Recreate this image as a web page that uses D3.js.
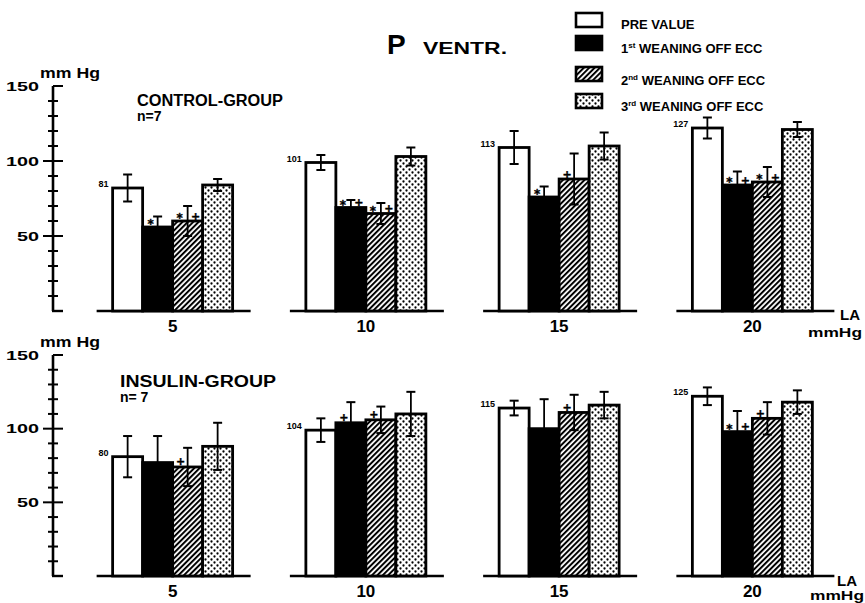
<!DOCTYPE html>
<html><head><meta charset="utf-8">
<script src="https://cdn.jsdelivr.net/npm/d3@7"></script>
<style>
body{margin:0;background:#fff;}
svg{display:block;font-family:"Liberation Sans",Arial,sans-serif;font-weight:bold;}
text{fill:#000;}
</style></head>
<body>
<svg id="c" width="865" height="603"></svg>
<script>
// ---- data ----
const categories = ["5", "10", "15", "20"];
const seriesNames = ["PRE VALUE", "1st WEANING OFF ECC", "2nd WEANING OFF ECC", "3rd WEANING OFF ECC"];
const majorTicks = [50, 100, 150];
const minorTicks = [10, 20, 30, 40, 60, 70, 80, 90, 110, 120, 130, 140];

const controlPre = [82, 99, 109, 122];
const controlPreErr = [9, 5, 11, 7];
const control1st = [56, 69, 76, 84];
const control1stErr = [7, 5, 7, 9];
const control2nd = [60, 65, 88, 86];
const control2ndErr = [10, 7, 17, 10];
const control3rd = [84, 103, 110, 121];
const control3rdErr = [4, 6, 9, 5];
const controlPreLabels = ["81", "101", "113", "127"];
const control1stMarks = ["*", "*+", "*", "*+"];
const control2ndMarks = ["*+", "*+", "+", "*+"];

const insulinPre = [81, 99, 114, 122];
const insulinPreErr = [14, 8, 5, 6];
const insulin1st = [77, 104, 100, 98];
const insulin1stErr = [18, 14, 20, 14];
const insulin2nd = [74, 106, 111, 107];
const insulin2ndErr = [13, 9, 12, 11];
const insulin3rd = [88, 110, 116, 118];
const insulin3rdErr = [16, 15, 9, 8];
const insulinPreLabels = ["80", "104", "115", "125"];
const insulin1stMarks = ["", "+", "", "*+"];
const insulin2ndMarks = ["+", "+", "+", "+"];

// ---- setup ----
const svg = d3.select("#c");
const defs = svg.append("defs");
const hatch = defs.append("pattern").attr("id", "hatch").attr("patternUnits", "userSpaceOnUse")
  .attr("width", 3.8).attr("height", 3.8).attr("patternTransform", "rotate(45)");
hatch.append("rect").attr("width", 3.8).attr("height", 3.8).attr("fill", "#fff");
hatch.append("line").attr("x1", 1).attr("x2", 1).attr("y1", 0).attr("y2", 3.8)
  .attr("stroke", "#000").attr("stroke-width", 2);
const dots = defs.append("pattern").attr("id", "dots").attr("patternUnits", "userSpaceOnUse")
  .attr("width", 6).attr("height", 6);
dots.append("rect").attr("width", 6).attr("height", 6).attr("fill", "#fff");
dots.append("circle").attr("cx", 1.5).attr("cy", 1.5).attr("r", 1.15).attr("fill", "#000");
dots.append("circle").attr("cx", 4.5).attr("cy", 4.5).attr("r", 1.15).attr("fill", "#000");

const fills = ["#fff", "#000", "url(#hatch)", "url(#dots)"];

const x = d3.scaleBand().domain(categories).range([76, 849]);
const sub = d3.scaleBand().domain(seriesNames).range([-60, 60]);

const panels = [
  { y: d3.scaleLinear().domain([0, 150]).range([311, 86]),
    vals: [controlPre, control1st, control2nd, control3rd],
    errs: [controlPreErr, control1stErr, control2ndErr, control3rdErr],
    labels: controlPreLabels, marks: [null, control1stMarks, control2ndMarks, null],
    title: "CONTROL-GROUP", tx: 137, ty: 106, tlen: 146, n: "n=7", ny: 121, catY: 332,
    unitY: 78, laY: 320, mmY: 337, mmX: 808, laX: 840 },
  { y: d3.scaleLinear().domain([0, 150]).range([576, 355]),
    vals: [insulinPre, insulin1st, insulin2nd, insulin3rd],
    errs: [insulinPreErr, insulin1stErr, insulin2ndErr, insulin3rdErr],
    labels: insulinPreLabels, marks: [null, insulin1stMarks, insulin2ndMarks, null],
    title: "INSULIN-GROUP", tx: 120, ty: 387, tlen: 156, n: "n= 7", ny: 402, catY: 597,
    unitY: 347, laY: 586, mmY: 600, mmX: 810, laX: 837 }
];

panels.forEach(p => {
  const g = svg.append("g");
  const y = p.y;
  // y axis
  const ax = g.append("g").attr("transform", "translate(53,0)")
    .call(d3.axisLeft(y).tickValues(majorTicks).tickSize(0).tickPadding(14).tickFormat(d3.format("d")));
  ax.select(".domain").remove();
  ax.selectAll("text").attr("font-size", 12).attr("font-weight", "bold").attr("fill", "#000")
    .attr("font-family", "Liberation Sans, Arial, sans-serif").attr("dy", "0.36em")
    .attr("textLength", d => String(d).length * 11).attr("lengthAdjust", "spacingAndGlyphs");
  g.append("line").attr("x1", 53).attr("x2", 53).attr("y1", y(150)).attr("y2", y(0))
    .attr("stroke", "#000").attr("stroke-width", 2.6);
  g.append("line").attr("x1", 52).attr("x2", 63).attr("y1", y(0)).attr("y2", y(0))
    .attr("stroke", "#000").attr("stroke-width", 2.4);
  g.selectAll(".maj").data(majorTicks).join("line")
    .attr("x1", d => d === 150 ? 53 : 43).attr("x2", 63).attr("y1", d => y(d)).attr("y2", d => y(d))
    .attr("stroke", "#000").attr("stroke-width", 2);
  g.selectAll(".min").data(minorTicks).join("line")
    .attr("x1", 48).attr("x2", 58).attr("y1", d => y(d)).attr("y2", d => y(d))
    .attr("stroke", "#000").attr("stroke-width", 2);
  g.append("text").attr("x", 40).attr("y", p.unitY).attr("font-size", 15)
    .attr("textLength", 60).attr("lengthAdjust", "spacingAndGlyphs").text("mm Hg");

  // titles
  g.append("text").attr("x", p.tx).attr("y", p.ty).attr("font-size", 16)
    .attr("textLength", p.tlen).attr("lengthAdjust", "spacingAndGlyphs").text(p.title);
  g.append("text").attr("x", p.tx).attr("y", p.ny).attr("font-size", 14).text(p.n);

  // group baselines
  g.selectAll(".base").data(categories).join("line")
    .attr("x1", d => x(d) + x.bandwidth() / 2 - 76)
    .attr("x2", d => x(d) + x.bandwidth() / 2 + (d === "20" ? 82 : 78))
    .attr("y1", y(0)).attr("y2", y(0)).attr("stroke", "#000").attr("stroke-width", 2.4);

  // category labels
  g.selectAll(".cat").data(categories).join("text")
    .attr("x", d => x(d) + x.bandwidth() / 2).attr("y", p.catY)
    .attr("text-anchor", "middle").attr("font-size", 17).text(d => d);

  // bars
  seriesNames.forEach((s, si) => {
    const data = categories.map((c, ci) => ({ c, v: p.vals[si][ci], e: p.errs[si][ci],
      m: p.marks[si] ? p.marks[si][ci] : "", lab: p.labels[ci] }));
    const bx = d => x(d.c) + x.bandwidth() / 2 + sub(s);
    const cx = d => bx(d) + sub.bandwidth() / 2;
    g.selectAll(".bar" + si).data(data).join("rect")
      .attr("x", bx).attr("width", sub.bandwidth())
      .attr("y", d => y(d.v)).attr("height", d => y(0) - y(d.v))
      .attr("fill", fills[si]).attr("stroke", "#000").attr("stroke-width", 2.8);
    // error bars
    const eb = g.selectAll(".err" + si).data(data).join("g");
    eb.append("line").attr("x1", cx).attr("x2", cx)
      .attr("y1", d => y(d.v + d.e)).attr("y2", d => y(d.v - d.e))
      .attr("stroke", "#000").attr("stroke-width", 1.8);
    eb.append("line").attr("x1", d => cx(d) - 4.5).attr("x2", d => cx(d) + 4.5)
      .attr("y1", d => y(d.v + d.e)).attr("y2", d => y(d.v + d.e))
      .attr("stroke", "#000").attr("stroke-width", 2);
    eb.append("line").attr("x1", d => cx(d) - 4.5).attr("x2", d => cx(d) + 4.5)
      .attr("y1", d => y(d.v - d.e)).attr("y2", d => y(d.v - d.e))
      .attr("stroke", "#000").attr("stroke-width", 2);
    // significance marks
    data.forEach(d => {
      if (!d.m) return;
      const chars = d.m.split("");
      chars.forEach((ch, k) => {
        const off = chars.length === 2 ? (k === 0 ? -8 : 8) : -7;
        g.append("text").attr("x", cx(d) + off).attr("y", y(d.v) - (ch === "*" ? -1 : 1.5))
          .attr("text-anchor", "middle").attr("fill", "#000")
          .attr("stroke", "#000").attr("stroke-width", 0.4)
          .attr("font-family", "DejaVu Sans, sans-serif")
          .attr("font-size", ch === "*" ? 12 : 11).text(ch);
      });
    });
    // value labels for PRE
    if (si === 0) {
      g.selectAll(".lab").data(data).join("text")
        .attr("x", d => bx(d) - 4).attr("y", d => y(d.v) - 1)
        .attr("text-anchor", "end").attr("font-size", 9).text(d => d.lab);
    }
  });

  // LA mmHg
  g.append("text").attr("x", p.laX).attr("y", p.laY).attr("font-size", 15).text("LA");
  g.append("text").attr("x", p.mmX).attr("y", p.mmY).attr("font-size", 13)
    .attr("textLength", 54).attr("lengthAdjust", "spacingAndGlyphs").text("mmHg");
});

// main title
svg.append("text").attr("x", 387).attr("y", 54).attr("font-size", 28).text("P");
svg.append("text").attr("x", 423).attr("y", 54).attr("font-size", 16)
  .attr("textLength", 84).attr("lengthAdjust", "spacingAndGlyphs").text("VENTR.");

// legend
const legY = [13, 36, 67, 94];
const legBase = [29, 53, 85, 111];
const leg = svg.append("g");
seriesNames.forEach((s, i) => {
  leg.append("rect").attr("x", 576).attr("y", legY[i]).attr("width", 26).attr("height", 14)
    .attr("fill", fills[i]).attr("stroke", "#000").attr("stroke-width", 2.6);
  const t = leg.append("text").attr("x", 621).attr("y", legBase[i]).attr("font-size", 13);
  if (i === 0) { t.text(s); }
  else {
    t.append("tspan").text(s.slice(0, 1));
    t.append("tspan").attr("dy", -5).attr("font-size", 8).text(s.slice(1, 3));
    t.append("tspan").attr("dy", 5).text(s.slice(3));
  }
});
</script>
</body></html>
